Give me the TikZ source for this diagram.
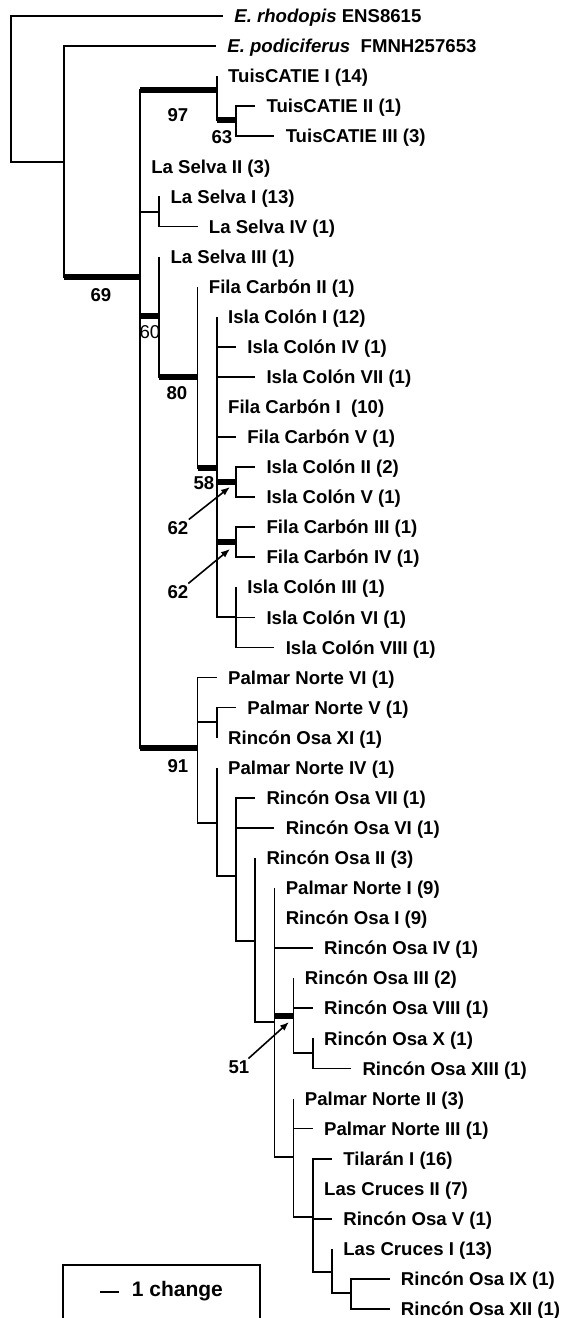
\documentclass[tikz,border=0pt]{standalone}
\usepackage{fontspec}
\setmainfont{Liberation Sans}
\usetikzlibrary{arrows.meta}
\tikzset{
  leaf/.style={anchor=west,inner xsep=10.5pt,inner ysep=0pt,text height=13.3pt,text depth=0pt,font=\fontsize{18.6}{20}\selectfont\bfseries},
  supp/.style={inner sep=1pt,text height=13.3pt,text depth=0pt,font=\fontsize{18.6}{20}\selectfont\bfseries},
  bar/.style={line width=6pt},
  pointer/.style={-{Latex[length=9pt,width=7pt]},line width=1.6pt},
}
\begin{document}
\begin{tikzpicture}[x=1pt,y=-1pt,line width=1.7pt]
\useasboundingbox (0,0) rectangle (561,1318);

%---------------------------------
% leaves
\node[leaf] (rhod) at (223,16) {\textit{E. rhodopis} ENS8615};
\node[leaf] (podi) at (216,46.1) {\textit{E. podiciferus}\ \ FMNH257653};
\node[leaf] (tc1) at (216.8,76.1) {TuisCATIE I (14)};
\node[leaf] (tc2) at (255.2,106.2) {TuisCATIE II (1)};
\node[leaf] (tc3) at (274.4,136.3) {TuisCATIE III (3)};
\node[leaf] (ls2) at (140,166.4) {La Selva II (3)};
\node[leaf] (ls1) at (159.2,196.4) {La Selva I (13)};
\node[leaf] (ls4) at (197.6,226.5) {La Selva IV (1)};
\node[leaf] (ls3) at (159.2,256.6) {La Selva III (1)};
\node[leaf] (fc2) at (197.6,286.6) {Fila Carbón II (1)};
\node[leaf] (ic1) at (216.8,316.7) {Isla Colón I (12)};
\node[leaf] (ic4) at (236,346.8) {Isla Colón IV (1)};
\node[leaf] (ic7) at (255.2,376.8) {Isla Colón VII (1)};
\node[leaf] (fc1) at (216.8,406.9) {Fila Carbón I\ \ (10)};
\node[leaf] (fc5) at (236,437) {Fila Carbón V (1)};
\node[leaf] (ic2) at (255.2,467.1) {Isla Colón II (2)};
\node[leaf] (ic5) at (255.2,497.1) {Isla Colón V (1)};
\node[leaf] (fc3) at (255.2,527.2) {Fila Carbón III (1)};
\node[leaf] (fc4) at (255.2,557.3) {Fila Carbón IV (1)};
\node[leaf] (ic3) at (236,587.3) {Isla Colón III (1)};
\node[leaf] (ic6) at (255.2,617.4) {Isla Colón VI (1)};
\node[leaf] (ic8) at (274.4,647.5) {Isla Colón VIII (1)};
\node[leaf] (pn6) at (216.8,677.5) {Palmar Norte VI (1)};
\node[leaf] (pn5) at (236,707.6) {Palmar Norte V (1)};
\node[leaf] (ro11) at (216.8,737.7) {Rincón Osa XI (1)};
\node[leaf] (pn4) at (216.8,767.8) {Palmar Norte IV (1)};
\node[leaf] (ro7) at (255.2,797.8) {Rincón Osa VII (1)};
\node[leaf] (ro6) at (274.4,827.9) {Rincón Osa VI (1)};
\node[leaf] (ro2) at (255.2,858) {Rincón Osa II (3)};
\node[leaf] (pn1) at (274.4,888) {Palmar Norte I (9)};
\node[leaf] (ro1) at (274.4,918.1) {Rincón Osa I (9)};
\node[leaf] (ro4) at (312.8,948.2) {Rincón Osa IV (1)};
\node[leaf] (ro3) at (293.6,978.2) {Rincón Osa III (2)};
\node[leaf] (ro8) at (312.8,1008.3) {Rincón Osa VIII (1)};
\node[leaf] (ro10) at (312.8,1038.4) {Rincón Osa X (1)};
\node[leaf] (ro13) at (351.2,1068.4) {Rincón Osa XIII (1)};
\node[leaf] (pn2) at (293.6,1098.5) {Palmar Norte II (3)};
\node[leaf] (pn3) at (312.8,1128.6) {Palmar Norte III (1)};
\node[leaf] (ti1) at (332,1158.7) {Tilarán I (16)};
\node[leaf] (lc2) at (312.8,1188.7) {Las Cruces II (7)};
\node[leaf] (ro5) at (332,1218.8) {Rincón Osa V (1)};
\node[leaf] (lc1) at (332,1248.9) {Las Cruces I (13)};
\node[leaf] (ro9) at (389.6,1278.9) {Rincón Osa IX (1)};
\node[leaf] (ro12) at (389.6,1309) {Rincón Osa XII (1)};

%---------------------------------
% internal nodes
\coordinate (root) at (10.8,162);
\coordinate (n1) at (64,162);
\coordinate (n69) at (140,277);
\coordinate (n97) at (216.8,90);
\coordinate (n63) at (236,120);
\coordinate (nls) at (159.2,212);
\coordinate (n60) at (159.2,316);
\coordinate (n80) at (197.6,377);
\coordinate (n58) at (216.8,468);
\coordinate (n62a) at (236,482);
\coordinate (n62b) at (236,542);
\coordinate (nic3) at (236,617);
\coordinate (n91) at (197.6,748);
\coordinate (npn5) at (216.8,722);
\coordinate (na) at (216.8,823);
\coordinate (nb) at (236,876);
\coordinate (nc) at (255.2,941);
\coordinate (nd) at (274.4,1022);
\coordinate (n51) at (293.6,1016);
\coordinate (ne) at (312.8,1053);
\coordinate (nf) at (293.6,1157);
\coordinate (ng) at (312.8,1217);
\coordinate (nh) at (332,1272);
\coordinate (nj) at (351.2,1293);

%---------------------------------
% branches
\draw (rhod.west) -| (root) -- (n1);
\draw (n1) |- (podi.west);
\draw (n1) |- (n69);
\draw (n69) |- (n97);
\draw (n69) |- (ls2.west);
\draw (n69) |- (nls);
\draw (n69) |- (n60);
\draw (n69) |- (n91);
\draw (n97) |- (tc1.west);
\draw (n97) |- (n63);
\draw (n63) |- (tc2.west);
\draw (n63) |- (tc3.west);
\draw (nls) |- (ls1.west);
\draw (nls) |- (ls4.west);
\draw (n60) |- (ls3.west);
\draw (n60) |- (n80);
\draw (n80) |- (fc2.west);
\draw (n80) |- (n58);
\draw (n58) |- (ic1.west);
\draw (n58) |- (ic4.west);
\draw (n58) |- (ic7.west);
\draw (n58) |- (fc1.west);
\draw (n58) |- (fc5.west);
\draw (n58) |- (n62a);
\draw (n58) |- (n62b);
\draw (n58) |- (nic3);
\draw (n62a) |- (ic2.west);
\draw (n62a) |- (ic5.west);
\draw (n62b) |- (fc3.west);
\draw (n62b) |- (fc4.west);
\draw (nic3) |- (ic3.west);
\draw (nic3) |- (ic6.west);
\draw (nic3) |- (ic8.west);
\draw (n91) |- (pn6.west);
\draw (n91) |- (npn5);
\draw (n91) |- (na);
\draw (npn5) |- (pn5.west);
\draw (npn5) |- (ro11.west);
\draw (na) |- (pn4.west);
\draw (na) |- (nb);
\draw (nb) |- (ro7.west);
\draw (nb) |- (ro6.west);
\draw (nb) |- (nc);
\draw (nc) |- (ro2.west);
\draw (nc) |- (nd);
\draw (nd) |- (pn1.west);
\draw (nd) |- (ro1.west);
\draw (nd) |- (ro4.west);
\draw (nd) |- (n51);
\draw (nd) |- (nf);
\draw (n51) |- (ro3.west);
\draw (n51) |- (ro8.west);
\draw (n51) |- (ne);
\draw (ne) |- (ro10.west);
\draw (ne) |- (ro13.west);
\draw (nf) |- (pn2.west);
\draw (nf) |- (pn3.west);
\draw (nf) |- (ng);
\draw (ng) |- (ti1.west);
\draw (ng) |- (lc2.west);
\draw (ng) |- (ro5.west);
\draw (ng) |- (nh);
\draw (nh) |- (lc1.west);
\draw (nh) |- (nj);
\draw (nj) |- (ro9.west);
\draw (nj) |- (ro12.west);

% supported branches
\draw[bar] (n1 |- n69) -- (n69);
\draw[bar] (n69 |- n97) -- (n97);
\draw[bar] (n97 |- n63) -- (n63);
\draw[bar] (n69 |- n60) -- (n60);
\draw[bar] (n60 |- n80) -- (n80);
\draw[bar] (n80 |- n58) -- (n58);
\draw[bar] (n58 |- n62a) -- (n62a);
\draw[bar] (n58 |- n62b) -- (n62b);
\draw[bar] (n69 |- n91) -- (n91);
\draw[bar] (nd |- n51) -- (n51);

%---------------------------------
% bootstrap values
\node[supp] (s69) at (101,295) {69};
\node[supp] (s97) at (178,115) {97};
\node[supp] (s63) at (222,137) {63};
\node[supp,font=\fontsize{18.6}{20}\selectfont] (s60) at (150,332) {60};
\node[supp] (s80) at (177,393) {80};
\node[supp] (s58) at (204,483) {58};
\node[supp] (s62a) at (178,528) {62};
\node[supp] (s62b) at (178,592) {62};
\node[supp] (s91) at (178,766) {91};
\node[supp] (s51) at (239,1067) {51};

\coordinate (t62a) at (230,487);
\coordinate (t62b) at (230,549);
\coordinate (t51) at (289,1022);
\draw[pointer] (s62a) -- (t62a);
\draw[pointer] (s62b) -- (t62b);
\draw[pointer] (s51) -- (t51);

%---------------------------------
% scale
\draw (63,1318) |- (260,1265) -- (260,1318);
\coordinate (sb0) at (99.5,1292);
\coordinate (sb1) at (118.7,1292);
\draw (sb0) -- (sb1);
\node[anchor=west,inner sep=0pt,font=\fontsize{21}{23}\selectfont\bfseries] (chg) at (131,1291) {1 change};

\end{tikzpicture}
\end{document}
